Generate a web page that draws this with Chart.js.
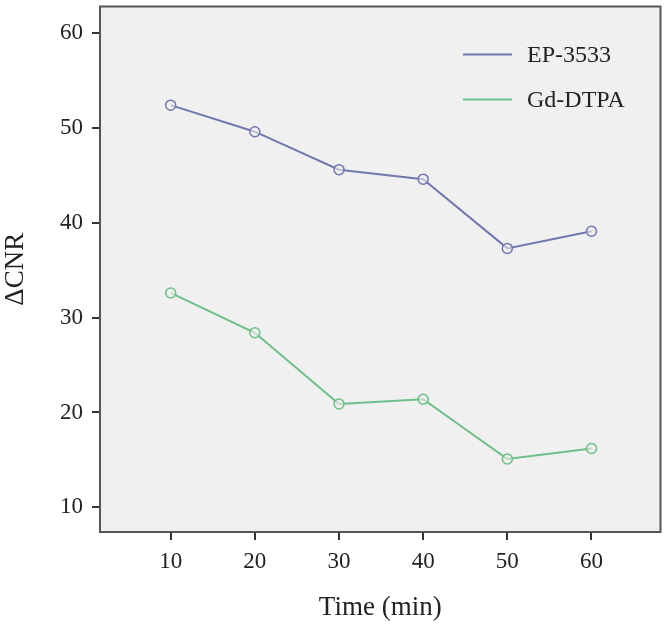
<!DOCTYPE html>
<html>
<head>
<meta charset="utf-8">
<script src="https://cdn.jsdelivr.net/npm/chart.js@4"></script>
<style>
  html, body { margin: 0; padding: 0; background: #fff; }
  #wrap { width: 667px; height: 626px; }
</style>
</head>
<body>
<div id="wrap"><canvas id="chart" width="667" height="626"></canvas></div>
<script>
const times = [10, 20, 30, 40, 50, 60];
const ep3533 = [52.4, 49.6, 45.6, 44.6, 37.3, 39.1];
const gdDtpa = [32.6, 28.4, 20.9, 21.4, 15.1, 16.2];
const xTicks = [10, 20, 30, 40, 50, 60];
const yTicks = [10, 20, 30, 40, 50, 60];

const serif = "'Liberation Serif', 'DejaVu Serif', serif";

// grey plot area with a dark frame
const plotFrame = {
  id: 'plotFrame',
  beforeDraw(chart) {
    const { ctx, chartArea: a } = chart;
    ctx.save();
    ctx.fillStyle = '#f0f0f0';
    ctx.fillRect(a.left, a.top, a.right - a.left, a.bottom - a.top);
    ctx.restore();
  },
  afterDraw(chart) {
    const { ctx, chartArea: a } = chart;
    ctx.save();
    ctx.strokeStyle = '#555';
    ctx.lineWidth = 2;
    ctx.strokeRect(a.left, a.top, a.right - a.left, a.bottom - a.top);
    ctx.restore();
  }
};

// legend drawn inside the top right corner
const insideLegend = {
  id: 'insideLegend',
  afterDraw(chart) {
    const { ctx, chartArea: a } = chart;
    ctx.save();
    ctx.font = '24px ' + serif;
    ctx.textBaseline = 'middle';
    chart.data.datasets.forEach((ds, i) => {
      const y = a.top + 48 + i * 45;
      const x0 = a.left + 363;
      ctx.strokeStyle = ds.borderColor;
      ctx.lineWidth = 2;
      ctx.beginPath();
      ctx.moveTo(x0, y);
      ctx.lineTo(x0 + 49, y);
      ctx.stroke();
      ctx.fillStyle = '#222';
      ctx.fillText(ds.label, x0 + 64, y + 1);
    });
    ctx.restore();
  }
};

new Chart(document.getElementById('chart'), {
  type: 'line',
  data: {
    datasets: [
      {
        label: 'EP-3533',
        data: times.map((t, i) => ({ x: t, y: ep3533[i] })),
        borderColor: '#7178ad',
        backgroundColor: 'rgba(240,240,240,0.6)',
        borderWidth: 2,
        pointRadius: 5,
        pointBorderWidth: 1.5,
        tension: 0
      },
      {
        label: 'Gd-DTPA',
        data: times.map((t, i) => ({ x: t, y: gdDtpa[i] })),
        borderColor: '#6cbf88',
        backgroundColor: 'rgba(240,240,240,0.6)',
        borderWidth: 2,
        pointRadius: 5,
        pointBorderWidth: 1.5,
        tension: 0
      }
    ]
  },
  options: {
    responsive: false,
    animation: false,
    layout: { padding: { top: 4, right: 5, left: 0, bottom: 0 } },
    plugins: {
      legend: { display: false },
      tooltip: { enabled: false }
    },
    scales: {
      x: {
        type: 'linear',
        min: 1.6,
        max: 68.2,
        afterFit(scale) {
          scale.height = 94;
          scale.paddingLeft = 0;
          scale.paddingRight = 0;
        },
        afterBuildTicks(scale) { scale.ticks = xTicks.map(v => ({ value: v })); },
        grid: { drawOnChartArea: false, tickLength: 8, color: '#333', lineWidth: 2 },
        border: { display: false },
        ticks: { color: '#222', padding: 8, font: { family: serif, size: 23 } },
        title: {
          display: true,
          text: 'Time (min)',
          color: '#222',
          padding: { top: 2, bottom: 2 },
          font: { family: serif, size: 27 }
        }
      },
      y: {
        min: 7.4,
        max: 62.8,
        afterFit(scale) {
          scale.width = 100;
          scale.paddingTop = 0;
          scale.paddingBottom = 0;
        },
        afterBuildTicks(scale) { scale.ticks = yTicks.map(v => ({ value: v })); },
        grid: { drawOnChartArea: false, tickLength: 8, color: '#333', lineWidth: 2 },
        border: { display: false },
        ticks: { color: '#222', padding: 9, font: { family: serif, size: 23 } },
        title: {
          display: true,
          text: 'ΔCNR',
          color: '#222',
          padding: { top: 0, bottom: 0 },
          font: { family: serif, size: 27 }
        }
      }
    }
  },
  plugins: [plotFrame, insideLegend]
});
</script>
</body>
</html>
